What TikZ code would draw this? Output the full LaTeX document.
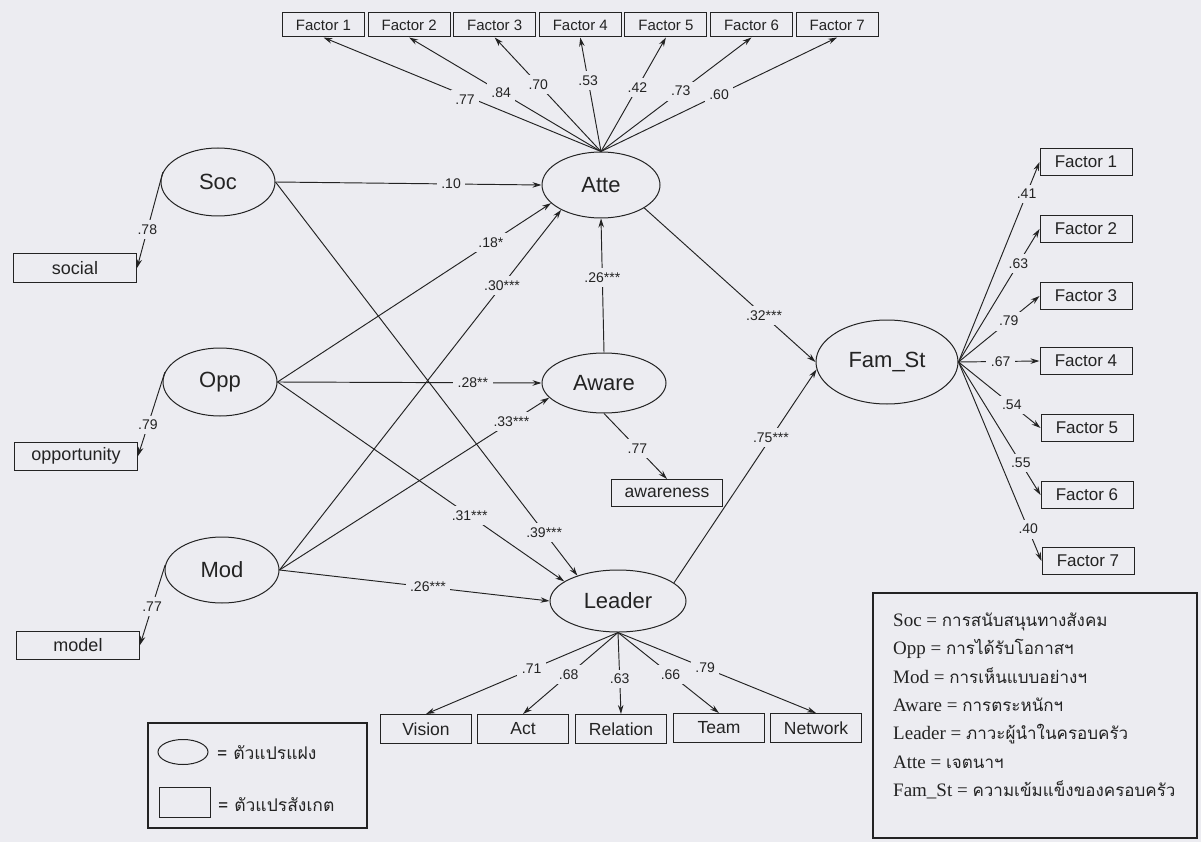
\documentclass[tikz,border=0pt]{standalone}
\usepackage{fontspec}
\setmainfont{Liberation Serif}
\setsansfont{Liberation Sans}
\newfontfamily\thaifont[Script=Thai]{Loma}
\usetikzlibrary{arrows.meta,shapes.geometric}
\definecolor{bg}{RGB}{236,236,241}
\definecolor{ink}{RGB}{35,35,35}
\tikzset{
  lat/.style={ellipse, draw=ink, line width=1pt, inner sep=0pt, text=ink,
    font=\sffamily\fontsize{22}{24}\selectfont},
  obsbox/.style={rectangle, draw=ink, line width=1pt, inner sep=0pt, text=ink},
  topbox/.style={obsbox, minimum width=82pt, minimum height=24pt, font=\sffamily\fontsize{15}{16}\selectfont},
  rbox/.style={obsbox, minimum width=92pt, minimum height=27pt, font=\sffamily\fontsize{17}{18}\selectfont},
  botbox/.style={obsbox, minimum width=91pt, minimum height=29pt, font=\sffamily\fontsize{17.5}{18}\selectfont},
  lbox/.style={obsbox, minimum width=123pt, minimum height=28pt, font=\sffamily\fontsize{18}{19}\selectfont},
  arr/.style={draw=ink, line width=0.95pt, -{Stealth[length=9pt,width=5.5pt]}},
  lbl/.style={fill=bg, inner sep=4.5pt, text=ink, font=\sffamily\fontsize{14}{15}\selectfont},
  legtext/.style={anchor=base west, inner sep=0pt, text=ink, font=\fontsize{19}{20}\selectfont},
}
\begin{document}
\begin{tikzpicture}[x=1pt,y=-1pt]
\useasboundingbox (0,0) rectangle (1201,842);
\fill[bg] (0,0) rectangle (1201,842);

% latent variables
\node[lat, minimum width=114pt, minimum height=68pt] (soc) at (218,182) {Soc};
\node[lat, minimum width=114pt, minimum height=68pt] (opp) at (220,382) {Opp};
\node[lat, minimum width=114pt, minimum height=66pt] (mod) at (222,570) {Mod};
\node[lat, minimum width=118pt, minimum height=66pt] (atte) at (601,185) {Atte};
\node[lat, minimum width=124pt, minimum height=60pt] (aware) at (604,383) {Aware};
\node[lat, minimum width=136pt, minimum height=62pt] (leader) at (618,601) {Leader};
\node[lat, minimum width=142pt, minimum height=84pt] (fam) at (887,362) {Fam\_St};

% top factors (Atte)
\foreach \i in {1,...,7}{
  \node[topbox] (t\i) at ({323.5+85.6*(\i-1)},25) {Factor \i};
}
% right factors (Fam_St)
\node[rbox] (r1) at (1086,162) {Factor 1};
\node[rbox] (r2) at (1086,229) {Factor 2};
\node[rbox] (r3) at (1086,296) {Factor 3};
\node[rbox] (r4) at (1086,361) {Factor 4};
\node[rbox] (r5) at (1087,428) {Factor 5};
\node[rbox] (r6) at (1087,495) {Factor 6};
\node[rbox] (r7) at (1088,561) {Factor 7};
% bottom (Leader)
\node[botbox] (vis) at (426,729) {Vision};
\node[botbox] (act) at (523,729) {Act};
\node[botbox] (rel) at (621,729) {Relation};
\node[botbox] (team) at (719,728) {Team};
\node[botbox] (net) at (816,728) {Network};
% left observed
\node[lbox] (social) at (75,268) {social};
\node[lbox] (oppo) at (76,456) {opportunity};
\node[lbox] (model) at (78,645) {model};
\node[obsbox, minimum width=111pt, minimum height=27pt, font=\sffamily\fontsize{17.5}{18}\selectfont] (awob) at (667,493) {awareness};

% Atte fan
\draw[arr] (atte.north) -- node[lbl,pos=0.49,yshift=-4pt]{.77} (t1.south);
\draw[arr] (atte.north) -- node[lbl,pos=0.52]{.84} (t2.south);
\draw[arr] (atte.north) -- node[lbl,pos=0.59]{.70} (t3.south);
\draw[arr] (atte.north) -- node[lbl,pos=0.62]{.53} (t4.south);
\draw[arr] (atte.north) -- node[lbl,pos=0.56]{.42} (t5.south);
\draw[arr] (atte.north) -- node[lbl,pos=0.53]{.73} (t6.south);
\draw[arr] (atte.north) -- node[lbl,pos=0.50]{.60} (t7.south);

% Fam_St fan
\draw[arr] (fam.east) -- node[lbl,pos=0.84]{.41} (r1.west);
\draw[arr] (fam.east) -- node[lbl,pos=0.74]{.63} (r2.west);
\draw[arr] (fam.east) -- node[lbl,pos=0.62]{.79} (r3.west);
\draw[arr] (fam.east) -- node[lbl,pos=0.52]{.67} (r4.west);
\draw[arr] (fam.east) -- node[lbl,pos=0.65]{.54} (r5.west);
\draw[arr] (fam.east) -- node[lbl,pos=0.76]{.55} (r6.west);
\draw[arr] (fam.east) -- node[lbl,pos=0.84]{.40} (r7.west);

% Leader fan
\draw[arr] (leader.south) -- node[lbl,pos=0.45]{.71} (vis.north);
\draw[arr] (leader.south) -- node[lbl,pos=0.52]{.68} (act.north);
\draw[arr] (leader.south) -- node[lbl,pos=0.57]{.63} (rel.north);
\draw[arr] (leader.south) -- node[lbl,pos=0.52]{.66} (team.north);
\draw[arr] (leader.south) -- node[lbl,pos=0.44]{.79} (net.north);

% left indicators
\draw[arr] (soc.170) -- node[lbl,pos=0.6]{.78} (social.east);
\draw[arr] (opp.170) -- node[lbl,pos=0.63]{.79} (oppo.east);
\draw[arr] (mod.175) -- node[lbl,pos=0.52]{.77} (model.east);

% structural paths
\draw[arr] (soc.east) -- node[lbl,pos=0.66]{.10} (atte.west);
\draw[arr] (soc.east) -- node[lbl,pos=0.89]{.39***} (leader.148);
\draw[arr] (opp.east) -- node[lbl,pos=0.78]{.18*} (atte.200);
\draw[arr] (mod.east) -- node[lbl,pos=0.79]{.30***} (atte.212);
\draw[arr] (opp.east) -- node[lbl,pos=0.74]{.28**} (aware.west);
\draw[arr] (mod.east) -- node[lbl,pos=0.86]{.33***} (aware.195);
\draw[arr] (opp.east) -- node[lbl,pos=0.67]{.31***} (leader.160);
\draw[arr] (mod.east) -- node[lbl,pos=0.55]{.26***} (leader.west);
\draw[arr] (aware.north) -- node[lbl,pos=0.56]{.26***} (atte.south);
\draw[arr] (aware.south) -- node[lbl,pos=0.53]{.77} (awob.north);
\draw[arr] (atte.-28) -- node[lbl,pos=0.70]{.32***} (fam.west);
\draw[arr] (leader.18) -- node[lbl,pos=0.68]{.75***} (fam.186);

% left legend
\draw[draw=ink, line width=1.6pt] (148,723) rectangle (367,828);
\node[ellipse, draw=ink, line width=1pt, minimum width=50pt, minimum height=25pt, inner sep=0pt] (legell) at (183,752) {};
\node[rectangle, draw=ink, line width=1pt, minimum width=51pt, minimum height=30pt, inner sep=0pt] (legrect) at (184.5,802) {};
\node[anchor=west, inner sep=0pt, text=ink, font=\thaifont\fontsize{17.5}{18}\selectfont] (leglat) at (217,753) {= ตัวแปรแฝง};
\node[anchor=west, inner sep=0pt, text=ink, font=\thaifont\fontsize{17.5}{18}\selectfont] (legobs) at (218,805) {= ตัวแปรสังเกต};

% right legend
\draw[draw=ink, line width=1.4pt] (873,593) rectangle (1197,838);
\node[legtext] (d1) at (893,626) {Soc = {\thaifont\fontsize{17}{18}\selectfont การสนับสนุนทางสังคม}};
\node[legtext] (d2) at (893,654.5) {Opp = {\thaifont\fontsize{17}{18}\selectfont การได้รับโอกาสฯ}};
\node[legtext] (d3) at (893,683) {Mod = {\thaifont\fontsize{17}{18}\selectfont การเห็นแบบอย่างฯ}};
\node[legtext] (d4) at (893,711) {Aware = {\thaifont\fontsize{17}{18}\selectfont การตระหนักฯ}};
\node[legtext] (d5) at (893,739) {Leader = {\thaifont\fontsize{17}{18}\selectfont ภาวะผู้นำในครอบครัว}};
\node[legtext] (d6) at (893,768) {Atte = {\thaifont\fontsize{17}{18}\selectfont เจตนาฯ}};
\node[legtext] (d7) at (893,796) {Fam\_St = {\thaifont\fontsize{17}{18}\selectfont ความเข้มแข็งของครอบครัว}};
\end{tikzpicture}
\end{document}
